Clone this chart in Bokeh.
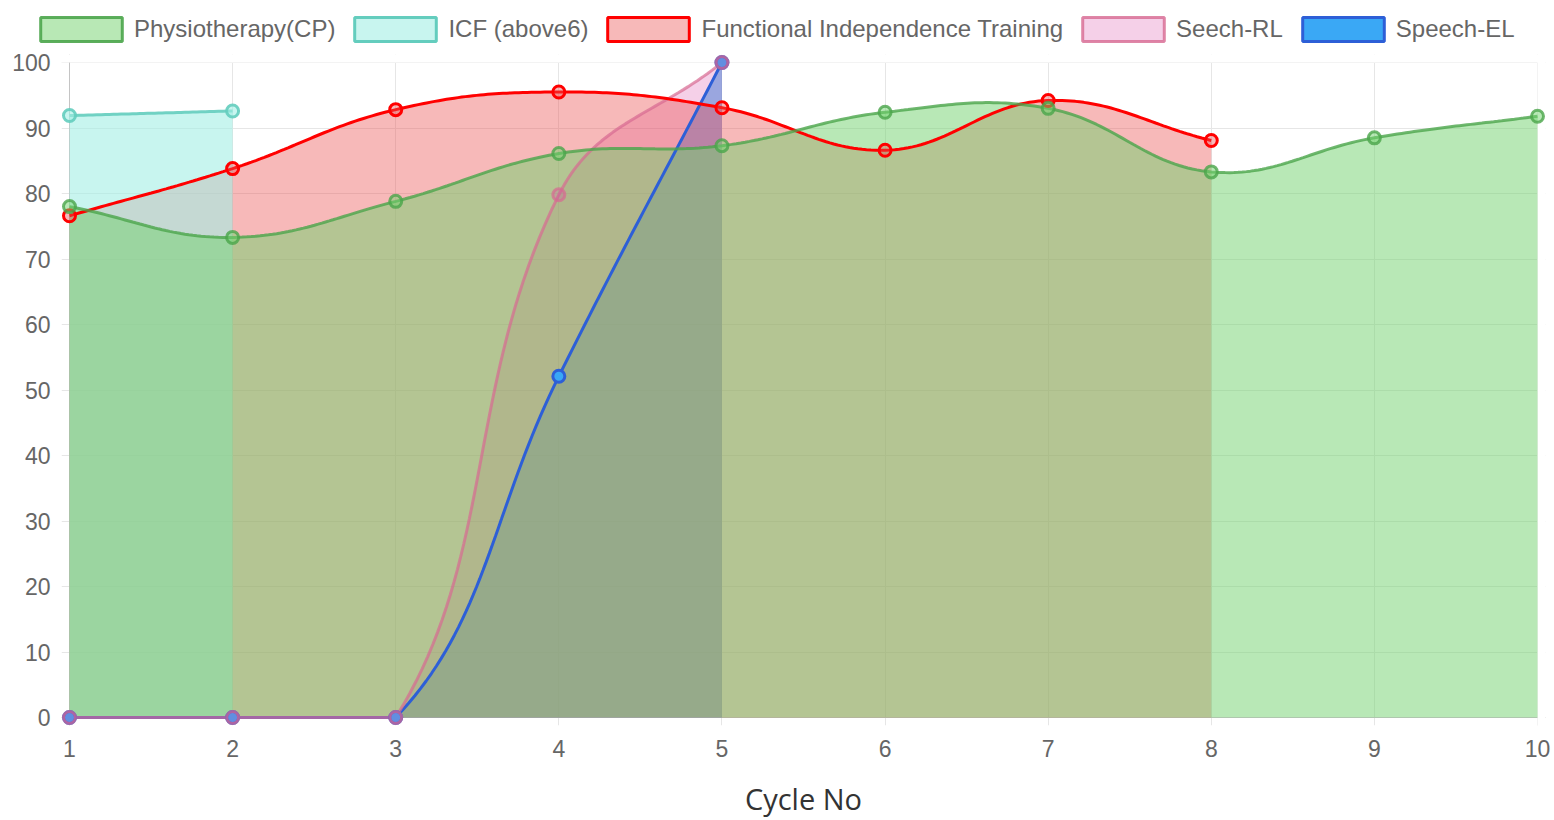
import numpy as np
from bokeh.plotting import figure
from bokeh.layouts import column, row
from bokeh.models import (FixedTicker, Legend, LegendItem, ColumnDataSource, Range1d,
                          Span, BoxAnnotation)
from bokeh.embed import file_html
from bokeh.resources import INLINE

# ---------------- data ----------------
cycles = [1, 2, 3, 4, 5, 6, 7, 8, 9, 10]
physio = [78.0, 73.3, 78.8, 86.1, 87.3, 92.4, 93.0, 83.3, 88.5, 91.8]
icf_cycles = [1, 2]
icf = [91.9, 92.6]
fit_cycles = [1, 2, 3, 4, 5, 6, 7, 8]
fit = [76.6, 83.8, 92.8, 95.5, 93.1, 86.6, 94.2, 88.1]
rl_cycles = [1, 2, 3, 4, 5]
rl = [0, 0, 0, 79.8, 100]
el_cycles = [1, 2, 3, 4, 5]
el = [0, 0, 0, 52.1, 100]
x_ticks = list(range(1, 11))
y_ticks = list(range(0, 101, 10))
names = ["Physiotherapy(CP)", "ICF (above6)", "Functional Independence Training", "Seech-RL", "Speech-EL"]

X0, X1, Y0, Y1 = 1, 10, 0, 100
FW, FH = 1468, 655          # chart area in px (x 1..10, y 0..100)
SX = FW / (X1 - X0)
SY = FH / (Y1 - Y0)
PAD = 8                     # px of room around chart area so edge points are not cut
PX, PY = PAD / SX, PAD / SY
W = 1552


def spline(xs, ys, t=0.4, n=40):
    xs = np.asarray(xs, float)
    ys = np.asarray(ys, float)
    m = len(xs)
    cpp, cpn = [], []
    for i in range(m):
        a = max(i - 1, 0)
        c = min(i + 1, m - 1)
        d01 = np.hypot((xs[i] - xs[a]) * SX, (ys[i] - ys[a]) * SY)
        d12 = np.hypot((xs[c] - xs[i]) * SX, (ys[c] - ys[i]) * SY)
        tot = d01 + d12
        s01 = d01 / tot if tot else 0.0
        s12 = d12 / tot if tot else 0.0
        fa, fb = t * s01, t * s12
        dx, dy = xs[c] - xs[a], ys[c] - ys[a]
        cpp.append((min(max(xs[i] - fa * dx, X0), X1), min(max(ys[i] - fa * dy, Y0), Y1)))
        cpn.append((min(max(xs[i] + fb * dx, X0), X1), min(max(ys[i] + fb * dy, Y0), Y1)))
    ox, oy = [xs[0]], [ys[0]]
    u = np.linspace(0, 1, n + 1)[1:]
    for i in range(m - 1):
        p0 = (xs[i], ys[i]); p1 = cpn[i]; p2 = cpp[i + 1]; p3 = (xs[i + 1], ys[i + 1])
        bx = (1 - u) ** 3 * p0[0] + 3 * (1 - u) ** 2 * u * p1[0] + 3 * (1 - u) * u ** 2 * p2[0] + u ** 3 * p3[0]
        by = (1 - u) ** 3 * p0[1] + 3 * (1 - u) ** 2 * u * p1[1] + 3 * (1 - u) * u ** 2 * p2[1] + u ** 3 * p3[1]
        ox.extend(bx.tolist()); oy.extend(by.tolist())
    return ox, oy


series = [
    # x, y, fill, fill_alpha, line, line_alpha, point_fill, point_fill_alpha, legend_fill
    (cycles, physio, (113, 209, 109), 0.5, (75, 165, 75), 0.8, (113, 209, 109), 0.5, "#b8e8b5"),
    (icf_cycles, icf, (163, 238, 228), 0.6, (100, 205, 190), 0.9, (163, 238, 228), 0.6, "#c8f5ef"),
    (fit_cycles, fit, (235, 80, 80), 0.4, (255, 0, 0), 1.0, (235, 80, 80), 0.4, "#f7b9b9"),
    (rl_cycles, rl, (215, 67, 163), 0.25, (215, 105, 145), 0.7, (215, 67, 163), 0.25, "#f5d0e8"),
    (el_cycles, el, (54, 162, 235), 0.6, (45, 95, 215), 1.0, (58, 167, 245), 1.0, "#3aa8f5"),
]

# ---------------- legend strip (its own figure, frame covering the strip) ----------------
LH = 46
lg = figure(width=W, height=LH, output_backend="svg", toolbar_location=None,
            x_range=Range1d(0, 1), y_range=Range1d(0, 1),
            x_axis_location=None, y_axis_location=None,
            min_border=0, min_border_left=0, min_border_right=0, min_border_top=0, min_border_bottom=0)
lg.outline_line_color = None
lg.grid.visible = False
nan = float("nan")
items = []
for (xs, ys, fc, fa, lc, la, pc, pa, lf), name in zip(series, names):
    src = ColumnDataSource(dict(left=[nan], right=[nan], top=[nan], bottom=[nan]))
    r = lg.quad(left="left", right="right", top="top", bottom="bottom", source=src,
                fill_color=lf, line_color=lc, line_alpha=min(1.0, la + 0.1), line_width=3)
    items.append(LegendItem(label=name, renderers=[r]))
legend = Legend(items=items, orientation="horizontal", location=(30, 2),
                glyph_width=102, glyph_height=30, label_standoff=2, spacing=9,
                padding=0, margin=0, border_line_color=None, background_fill_alpha=0,
                label_text_font="Liberation Sans", label_text_font_size="24px",
                label_text_color="#666666")
lg.add_layout(legend, "center")

# ---------------- chart ----------------
p = figure(width=W, height=820 - LH, output_backend="svg", toolbar_location=None,
           x_range=Range1d(X0 - PX, X1 + PX), y_range=Range1d(Y0 - PY, Y1 + PY),
           min_border_left=61, min_border_right=W - 61 - FW - 2 * PAD,
           min_border_top=54 - LH, min_border_bottom=95)
p.outline_line_color = None
p.background_fill_color = "white"

# axis lines at x=1 and y=0, and masks hiding grid overhang past x=10 / above y=100
p.add_layout(Span(location=X0, dimension="height", line_color="#c4c4c4", line_width=1, level="underlay"))
p.add_layout(Span(location=Y0, dimension="width", line_color="#c4c4c4", line_width=1, level="underlay"))
p.add_layout(BoxAnnotation(left=X1, fill_color="white", fill_alpha=1, line_color=None, level="underlay"))
p.add_layout(BoxAnnotation(bottom=Y1, fill_color="white", fill_alpha=1, line_color=None, level="underlay"))

# fills, drawn last dataset first
for xs, ys, fc, fa, lc, la, pc, pa, lf in reversed(series):
    sx, sy = spline(xs, ys)
    p.varea(x=sx, y1=[0] * len(sx), y2=sy, fill_color=fc, fill_alpha=fa)
# lines
for xs, ys, fc, fa, lc, la, pc, pa, lf in reversed(series):
    sx, sy = spline(xs, ys)
    p.line(sx, sy, line_color=lc, line_alpha=la, line_width=3)
# points
for xs, ys, fc, fa, lc, la, pc, pa, lf in reversed(series):
    p.scatter(xs, ys, size=12, fill_color=pc, fill_alpha=pa, line_color=lc, line_alpha=la, line_width=3)

# axes
for ax in (p.xaxis, p.yaxis):
    ax.major_label_text_font = "Liberation Sans"
    ax.major_label_text_font_size = "23px"
    ax.major_label_text_color = "#666666"
    ax.major_tick_in = 0
    ax.major_tick_out = 0
    ax.major_tick_line_color = None
    ax.minor_tick_line_color = None
    ax.axis_line_color = None
p.yaxis.major_label_standoff = 11
p.xaxis.major_label_standoff = 14
p.xaxis.ticker = FixedTicker(ticks=x_ticks)
p.yaxis.ticker = FixedTicker(ticks=y_ticks)
p.xaxis.axis_label = "Cycle No"
p.xaxis.axis_label_text_font = "Open Sans"
p.xaxis.axis_label_text_font_size = "29px"
p.xaxis.axis_label_text_font_style = "normal"
p.xaxis.axis_label_text_color = "#333333"
p.xaxis.axis_label_standoff = 19
p.xgrid.ticker = FixedTicker(ticks=x_ticks)
p.ygrid.ticker = FixedTicker(ticks=y_ticks)
p.grid.grid_line_color = "#e6e6e6"
p.grid.grid_line_width = 1

# wrap the legend strip in its own row so its frame is not aligned with the chart's frame
page = column(row(lg, spacing=0), p, spacing=0)
open("out.html", "w").write(file_html(page, INLINE))
